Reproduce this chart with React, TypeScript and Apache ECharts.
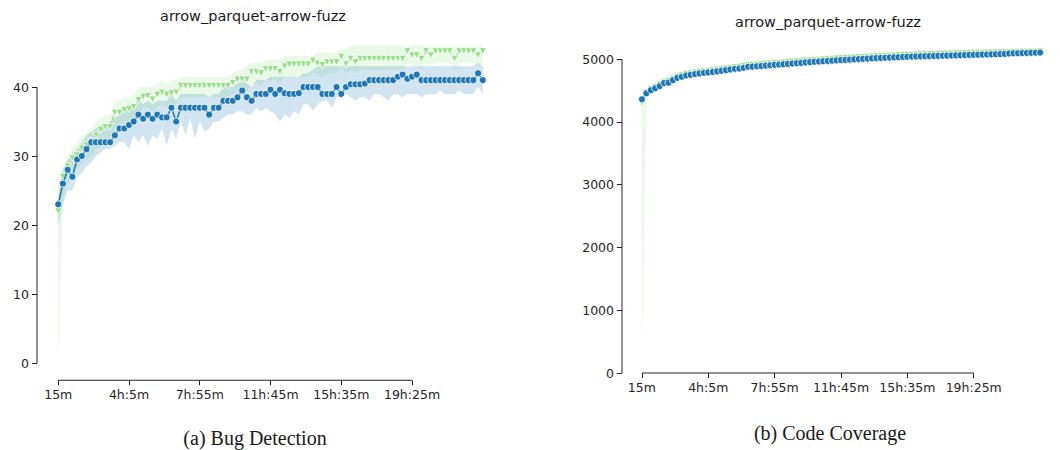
import React, { useEffect, useRef } from "react";
import * as echarts from "echarts";

// x positions are sample indices; labelled ticks sit every 15 samples
const tickIdx = [0, 15, 30, 45, 60, 75];
const tickLabels = ["15m", "4h:5m", "7h:55m", "11h:45m", "15h:35m", "19h:25m"];
const bugTicks = [0, 10, 20, 30, 40];
const covTicks = [0, 1000, 2000, 3000, 4000, 5000];

const plotTitle = "arrow_parquet-arrow-fuzz";
const captions = ["(a) Bug Detection", "(b) Code Coverage"];

// Bug detection — circle series (mean, lower, upper)
const blueBug = [
  23, 26, 28, 27, 29.5, 30, 31, 32, 32, 32,
  32, 32, 33, 34, 34, 34.5, 35, 36, 35.4, 36,
  35.4, 36, 35.6, 35.6, 37, 35, 37, 37, 37, 37,
  37, 37, 36, 37, 37, 38, 38, 38, 38.5, 39.5,
  38.5, 38, 39, 39, 39, 39.6, 39, 39.6, 39.1, 39,
  39, 39.1, 40, 40, 40, 40, 39, 39, 39, 40,
  39, 40, 40.4, 40.4, 40.4, 40.5, 41, 41, 41, 41,
  41, 41, 41.5, 41.8, 41.2, 41.5, 41.8, 41, 41, 41,
  41, 41, 41, 41, 41, 41, 41, 41, 41, 42,
  41,
];
const blueBugLow = [
  20, 23, 25, 25, 27, 27.5, 28.5, 29, 30, 30.5,
  31, 31, 31.5, 32, 32, 31, 33, 32, 33, 31.5,
  33, 32.5, 34, 31.5, 34, 32.5, 35, 33, 35.5, 32.5,
  35, 33.5, 34, 35, 35, 35.5, 36, 36, 36.5, 36.5,
  36, 36, 37, 36.5, 37, 36.5, 36, 35, 36, 35.5,
  36.5, 36, 37.5, 37.5, 36.5, 37.5, 38, 38, 37, 38.5,
  38.5, 39, 38.5, 38, 38.5, 38.5, 38, 39, 39, 38.5,
  38, 39, 39, 38.5, 39, 39, 39, 38.5, 39, 39,
  39, 39.5, 39, 39, 39, 39.5, 39, 39, 39, 40,
  39,
];
const blueBugHigh = [
  24.5, 28, 29.5, 30, 31, 32, 33, 33.5, 34, 34.5,
  34.5, 35, 35.5, 36, 36.5, 37, 37, 38, 37.5, 38,
  37.5, 38, 38, 38, 39, 38, 39, 39, 39, 39,
  39, 39, 38.5, 39, 39, 40, 40, 40, 40.5, 41,
  40.5, 40, 41, 41, 41, 41.5, 41.5, 41.5, 41.5, 41.5,
  41.5, 41.5, 42, 42, 42.5, 43, 43, 43, 43, 43,
  43, 43, 43, 43, 43, 43, 43, 43, 43, 43,
  43, 43, 43, 43, 43, 43, 43, 43, 43, 43,
  43, 43, 43, 43, 43, 43, 43, 43, 43, 43.5,
  43,
];

// Bug detection — triangle series (mean, lower, upper)
const greenBug = [
  22, 27, 28.5, 29.7, 30.1, 31.1, 31.6, 32.1, 33, 33.8,
  34.2, 34.2, 36.3, 36.3, 36.7, 36.8, 37.1, 38.1, 38.6, 38.7,
  38.2, 38.9, 39.2, 38.9, 39.1, 39.2, 40.2, 40.2, 40.2, 40.2,
  40.2, 40.2, 40.2, 40.2, 40.2, 40.2, 40.2, 40.6, 41.1, 41.1,
  41.1, 42.2, 42.2, 42, 42.6, 42.6, 42.6, 42.2, 43, 43.3,
  43.3, 43.3, 43.3, 43.3, 43.8, 43.4, 43.2, 43.6, 43.6, 43.6,
  44.4, 43.3, 44.1, 43.6, 44.1, 44.1, 44.1, 44.1, 44.1, 44.1,
  44.1, 44.1, 44.1, 44.1, 45.2, 44.6, 44.6, 44.1, 45.2, 44.6,
  45.2, 45.2, 45.2, 45.2, 44.1, 45.2, 45.2, 45.2, 45.2, 44.6,
  45.2,
];
const greenBugLow = [
  0, 24, 26, 27.5, 28, 29, 29.5, 30, 31, 31.5,
  32, 32.5, 34, 34.5, 35, 35, 35, 36, 37, 37,
  36.5, 37, 37.5, 37, 37, 37.5, 38.5, 38.5, 38.5, 38.5,
  38.5, 38.5, 38.5, 38.5, 38.5, 38.5, 38.5, 39, 39.5, 39.5,
  39.5, 40.5, 40.5, 40, 41, 41, 41, 40.5, 41.5, 41.5,
  41.5, 41.5, 41.5, 41.5, 42, 42, 41.5, 42, 42, 42,
  43, 42, 42.5, 42, 42.5, 42.5, 42.5, 42.5, 42.5, 42.5,
  42.5, 42.5, 42.5, 42.5, 43.5, 43, 43, 42.5, 43.5, 43,
  43.5, 43.5, 43.5, 43.5, 42.5, 43.5, 43.5, 43.5, 43.5, 43,
  43.5,
];
const greenBugHigh = [
  24, 28.5, 30, 31, 32, 33, 33.5, 34, 35, 35.5,
  36, 36, 38, 38, 38.5, 38.5, 39, 40, 40, 40,
  40, 40.5, 41, 40.5, 41, 41, 41.5, 41.5, 41.5, 41.5,
  41.5, 41.5, 41.5, 41.5, 41.5, 41.5, 41.5, 42, 42.5, 42.5,
  43, 43.5, 43.5, 43.5, 44, 44, 44, 44, 44.5, 44.5,
  44.5, 44.5, 44.5, 44.5, 44.5, 45, 45, 45, 45, 45,
  45.5, 45.5, 46, 46, 46, 46, 46, 46, 46, 46,
  46, 46, 46, 46, 46, 46, 46, 46, 46, 46,
  46, 46, 46, 46, 46, 46, 46, 46, 46, 46,
  46,
];

// Code coverage — circle series (mean, lower, upper)
const blueCov = [
  4360, 4455, 4505, 4535, 4570, 4620, 4625, 4665, 4700, 4718,
  4740, 4750, 4762, 4772, 4782, 4788, 4795, 4805, 4815, 4825,
  4835, 4845, 4850, 4862, 4878, 4880, 4885, 4890, 4896, 4902,
  4908, 4913, 4918, 4924, 4930, 4935, 4940, 4948, 4952, 4958,
  4962, 4966, 4970, 4975, 4980, 4984, 4988, 4992, 4996, 5000,
  5004, 5008, 5012, 5016, 5019, 5022, 5025, 5028, 5031, 5034,
  5037, 5040, 5042, 5044, 5046, 5048, 5050, 5052, 5054, 5056,
  5058, 5060, 5062, 5064, 5066, 5068, 5070, 5072, 5074, 5076,
  5078, 5080, 5082, 5090, 5092, 5094, 5096, 5098, 5100, 5102,
  5104,
];
const blueCovLow = [
  4330, 4430, 4480, 4512, 4548, 4598, 4604, 4645, 4680, 4700,
  4722, 4733, 4745, 4756, 4766, 4772, 4779, 4789, 4800, 4810,
  4820, 4830, 4836, 4848, 4862, 4866, 4871, 4876, 4882, 4888,
  4894, 4899, 4904, 4910, 4916, 4921, 4926, 4934, 4938, 4944,
  4948, 4952, 4956, 4961, 4966, 4970, 4974, 4978, 4982, 4986,
  4990, 4994, 4998, 5002, 5005, 5008, 5011, 5014, 5017, 5020,
  5023, 5026, 5028, 5030, 5032, 5034, 5036, 5038, 5040, 5042,
  5044, 5046, 5048, 5050, 5052, 5054, 5056, 5058, 5060, 5062,
  5064, 5066, 5068, 5074, 5077, 5079, 5081, 5083, 5085, 5087,
  5089,
];
const blueCovHigh = [
  4390, 4480, 4530, 4558, 4592, 4642, 4646, 4685, 4720, 4736,
  4758, 4767, 4779, 4788, 4798, 4804, 4811, 4821, 4830, 4840,
  4850, 4860, 4864, 4876, 4894, 4894, 4899, 4904, 4910, 4916,
  4922, 4927, 4932, 4938, 4944, 4949, 4954, 4962, 4966, 4972,
  4976, 4980, 4984, 4989, 4994, 4998, 5002, 5006, 5010, 5014,
  5018, 5022, 5026, 5030, 5033, 5036, 5039, 5042, 5045, 5048,
  5051, 5054, 5056, 5058, 5060, 5062, 5064, 5066, 5068, 5070,
  5072, 5074, 5076, 5078, 5080, 5082, 5084, 5086, 5088, 5090,
  5092, 5094, 5096, 5106, 5107, 5109, 5111, 5113, 5115, 5117,
  5119,
];

// Code coverage — triangle series (mean, lower, upper)
const greenCov = [
  4300, 4470, 4525, 4560, 4595, 4640, 4650, 4690, 4725, 4745,
  4765, 4775, 4788, 4798, 4808, 4815, 4822, 4832, 4842, 4852,
  4862, 4872, 4878, 4890, 4905, 4908, 4912, 4918, 4925, 4930,
  4937, 4942, 4947, 4953, 4960, 4965, 4970, 4976, 4980, 4986,
  4990, 4995, 5000, 5004, 5010, 5014, 5018, 5022, 5026, 5030,
  5034, 5038, 5042, 5046, 5050, 5052, 5055, 5058, 5062, 5066,
  5068, 5070, 5073, 5075, 5078, 5080, 5082, 5084, 5086, 5088,
  5090, 5092, 5094, 5096, 5098, 5100, 5100, 5102, 5104, 5106,
  5108, 5110, 5110, 5112, 5114, 5116, 5118, 5118, 5120, 5122,
  5124,
];
const greenCovLow = [
  250, 4445, 4500, 4536, 4572, 4617, 4628, 4668, 4704, 4725,
  4745, 4756, 4769, 4779, 4790, 4797, 4804, 4814, 4824, 4834,
  4844, 4854, 4861, 4873, 4888, 4891, 4896, 4902, 4909, 4914,
  4921, 4926, 4932, 4938, 4945, 4950, 4955, 4961, 4965, 4971,
  4975, 4980, 4985, 4989, 4995, 4999, 5003, 5007, 5011, 5015,
  5019, 5023, 5027, 5031, 5035, 5037, 5040, 5043, 5047, 5051,
  5053, 5055, 5058, 5060, 5063, 5065, 5067, 5069, 5071, 5073,
  5075, 5077, 5079, 5081, 5083, 5085, 5085, 5087, 5089, 5091,
  5093, 5095, 5095, 5097, 5099, 5101, 5103, 5103, 5105, 5107,
  5109,
];
const greenCovHigh = [
  4460, 4495, 4550, 4584, 4618, 4663, 4672, 4712, 4746, 4765,
  4785, 4794, 4807, 4817, 4826, 4833, 4840, 4850, 4860, 4870,
  4880, 4890, 4895, 4907, 4922, 4925, 4928, 4934, 4941, 4946,
  4953, 4958, 4962, 4968, 4975, 4980, 4985, 4991, 4995, 5001,
  5005, 5010, 5015, 5019, 5025, 5029, 5033, 5037, 5041, 5045,
  5049, 5053, 5057, 5061, 5065, 5067, 5070, 5073, 5077, 5081,
  5083, 5085, 5088, 5090, 5093, 5095, 5097, 5099, 5101, 5103,
  5105, 5107, 5109, 5111, 5113, 5115, 5115, 5117, 5119, 5121,
  5123, 5125, 5125, 5127, 5129, 5131, 5133, 5133, 5135, 5137,
  5139,
];

const BLUE = "#1f77b4";
const GREEN = "#98df8a";
const BLUE_BAND = "rgba(31,119,180,0.2)";
const GREEN_BAND = "rgba(152,223,138,0.2)";
const AXIS = "#262626";
const SANS = "DejaVu Sans";

const toPairs = (arr: number[]) => arr.map((v, i) => [i, v]);

function band(grid: number, low: number[], high: number[], fill: string, z: number) {
  return {
    type: "custom",
    xAxisIndex: grid,
    yAxisIndex: grid,
    silent: true,
    z,
    data: [[0, low[0]]],
    renderItem: (_params: any, api: any) => {
      const pts: number[][] = [];
      for (let i = 0; i < high.length; i++) pts.push(api.coord([i, high[i]]));
      for (let i = low.length - 1; i >= 0; i--) pts.push(api.coord([i, low[i]]));
      return { type: "polygon", shape: { points: pts }, style: { fill } };
    },
  };
}

function meanLine(grid: number, values: number[], kind: "circle" | "triangle", z: number) {
  const isCircle = kind === "circle";
  return {
    type: "line",
    xAxisIndex: grid,
    yAxisIndex: grid,
    silent: true,
    z,
    data: toPairs(values),
    symbol: kind,
    symbolRotate: isCircle ? 0 : 180,
    symbolSize: 7,
    showAllSymbol: true,
    itemStyle: { color: isCircle ? BLUE : GREEN, borderColor: "#ffffff", borderWidth: 0.8 },
    lineStyle: { color: isCircle ? BLUE : GREEN, width: 1.5, type: isCircle ? "solid" : [4, 2] },
  };
}

// trimmed spines, running between the first and last tick only
function spines(grid: number, xMin: number, yMin: number, yTicks: number[]) {
  const common = {
    type: "line",
    xAxisIndex: grid,
    yAxisIndex: grid,
    silent: true,
    clip: false,
    symbol: "none",
    z: 6,
    lineStyle: { color: AXIS, width: 1 },
  };
  return [
    { ...common, data: [[tickIdx[0], yMin], [tickIdx[tickIdx.length - 1], yMin]] },
    { ...common, data: [[xMin, yTicks[0]], [xMin, yTicks[yTicks.length - 1]]] },
  ];
}

const X_MIN = -4.5;
const X_MAX = 94.5;
const BUG_MIN = -2.5;
const BUG_MAX = 47.25;
const COV_MIN = 0;
const COV_MAX = 5400;

function xAxis(grid: number) {
  return {
    type: "value",
    gridIndex: grid,
    position: "bottom",
    min: X_MIN,
    max: X_MAX,
    axisLine: { show: false, onZero: false },
    splitLine: { show: false },
    axisTick: { show: true, inside: false, customValues: tickIdx, length: 5, lineStyle: { color: AXIS } },
    axisLabel: {
      customValues: tickIdx,
      formatter: (v: number) => tickLabels[tickIdx.indexOf(Math.round(v))] ?? "",
      margin: 8,
      fontFamily: SANS,
      fontSize: 12.5,
      color: AXIS,
    },
  };
}

function yAxis(grid: number, min: number, max: number, ticks: number[]) {
  return {
    type: "value",
    gridIndex: grid,
    position: "left",
    min,
    max,
    axisLine: { show: false, onZero: false },
    splitLine: { show: false },
    axisTick: { show: true, inside: false, customValues: ticks, length: 5, lineStyle: { color: AXIS } },
    axisLabel: {
      customValues: ticks,
      formatter: (v: number) => String(v),
      margin: 8,
      fontFamily: SANS,
      fontSize: 12.5,
      color: AXIS,
    },
  };
}

function textEl(text: string, x: number, y: number, size: number, family: string) {
  return {
    type: "text",
    x,
    y,
    silent: true,
    style: {
      text,
      fontSize: size,
      fontFamily: family,
      fill: "#1a1a1a",
      align: "center",
      verticalAlign: "middle",
      textAlign: "center",
      textVerticalAlign: "middle",
    },
  };
}

export default function App() {
  const ref = useRef<HTMLDivElement>(null);

  useEffect(() => {
    if (!ref.current) return;
    const chart = echarts.init(ref.current, undefined, { renderer: "svg" });
    chart.setOption({
      animation: false,
      backgroundColor: "#ffffff",
      grid: [
        { left: 37, top: 37, width: 467, height: 343.25 },
        { left: 622, top: 34, width: 459.4, height: 339 },
      ],
      xAxis: [xAxis(0), xAxis(1)],
      yAxis: [yAxis(0, BUG_MIN, BUG_MAX, bugTicks), yAxis(1, COV_MIN, COV_MAX, covTicks)],
      graphic: [
        textEl(plotTitle, 253, 16, 14.5, SANS),
        textEl(plotTitle, 828, 22, 14.5, SANS),
        textEl(captions[0], 255, 438, 20, "Liberation Serif"),
        textEl(captions[1], 830, 433, 20, "Liberation Serif"),
      ],
      series: [
        band(0, greenBugLow, greenBugHigh, GREEN_BAND, 1),
        band(0, blueBugLow, blueBugHigh, BLUE_BAND, 1),
        meanLine(0, greenBug, "triangle", 3),
        meanLine(0, blueBug, "circle", 4),
        ...spines(0, X_MIN, BUG_MIN, bugTicks),
        band(1, greenCovLow, greenCovHigh, GREEN_BAND, 1),
        band(1, blueCovLow, blueCovHigh, BLUE_BAND, 1),
        meanLine(1, greenCov, "triangle", 3),
        meanLine(1, blueCov, "circle", 4),
        ...spines(1, X_MIN, COV_MIN, covTicks),
      ],
    });
    return () => chart.dispose();
  }, []);

  return (
    <div
      ref={ref}
      style={{ position: "fixed", left: 0, top: 0, width: 1060, height: 450, background: "#fff" }}
    />
  );
}
